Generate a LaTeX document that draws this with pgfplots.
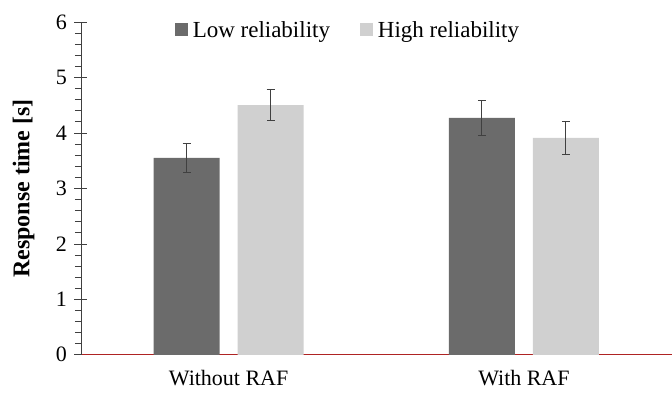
\documentclass[border=0pt]{standalone}
\usepackage{fontspec}
\setmainfont{Liberation Serif}
\usepackage{pgfplots}
\pgfplotsset{compat=1.18}
\definecolor{darkbar}{RGB}{107,107,107}
\definecolor{lightbar}{RGB}{208,208,208}
\definecolor{axred}{RGB}{175,35,35}
\definecolor{axgray}{RGB}{64,64,64}
\begin{document}
\begin{tikzpicture}
\begin{axis}[
  scale only axis,
  width=591pt, height=333pt,
  xmin=-0.5, xmax=1.5,
  ymin=0, ymax=6,
  ybar=18pt, bar width=66pt,
  axis x line=bottom, axis y line=left,
  x axis line style={-, draw=axred, line width=0.8pt},
  y axis line style={-, draw=axgray, line width=0.8pt},
  xtick={0,1}, xticklabels={Without RAF, With RAF},
  xtick style={draw=none},
  ytick={0,1,2,3,4,5,6},
  minor y tick num=4,
  tick align=center,
  major tick length=13pt,
  minor tick length=6pt,
  ytick style={draw=axgray, line width=0.7pt},
  minor y tick style={xshift=-3pt},
  /pgf/number format/assume math mode=true,
  tick label style={font=\fontsize{22}{26}\selectfont, black},
  xticklabel style={yshift=-5pt},
  yticklabel style={xshift=-4pt},
  ylabel={\textbf{Response time [s]}},
  ylabel style={font=\fontsize{24}{28}\selectfont, at={(axis description cs:-0.097,0.5)}, anchor=center},
  legend style={at={(0.452,0.976)}, anchor=center, draw=none, fill=none,
    legend columns=2, font=\fontsize{23}{27}\selectfont,
    /tikz/every even column/.append style={column sep=28pt}},
  legend image code/.code={\fill[#1] (0pt,-6.5pt) rectangle (13pt,6.5pt); \path (16pt,0pt);},
  error bars/error bar style={draw=axgray, line width=1pt},
  error bars/error mark options={rotate=90, draw=axgray, mark size=4pt, line width=1pt},
  clip=false,
]
\addplot[fill=darkbar, draw=none,
  error bars/.cd, y dir=both, y explicit]
  coordinates {(0,3.55) +- (0,0.26) (1,4.27) +- (0,0.32)};
\addplot[fill=lightbar, draw=none,
  error bars/.cd, y dir=both, y explicit]
  coordinates {(0,4.50) +- (0,0.28) (1,3.91) +- (0,0.30)};
\legend{Low reliability, High reliability}
\path (rel axis cs:0,1) ++(-81pt,22pt);
\path (rel axis cs:0,0) ++(-81pt,-38pt);
\end{axis}
\end{tikzpicture}
\end{document}
